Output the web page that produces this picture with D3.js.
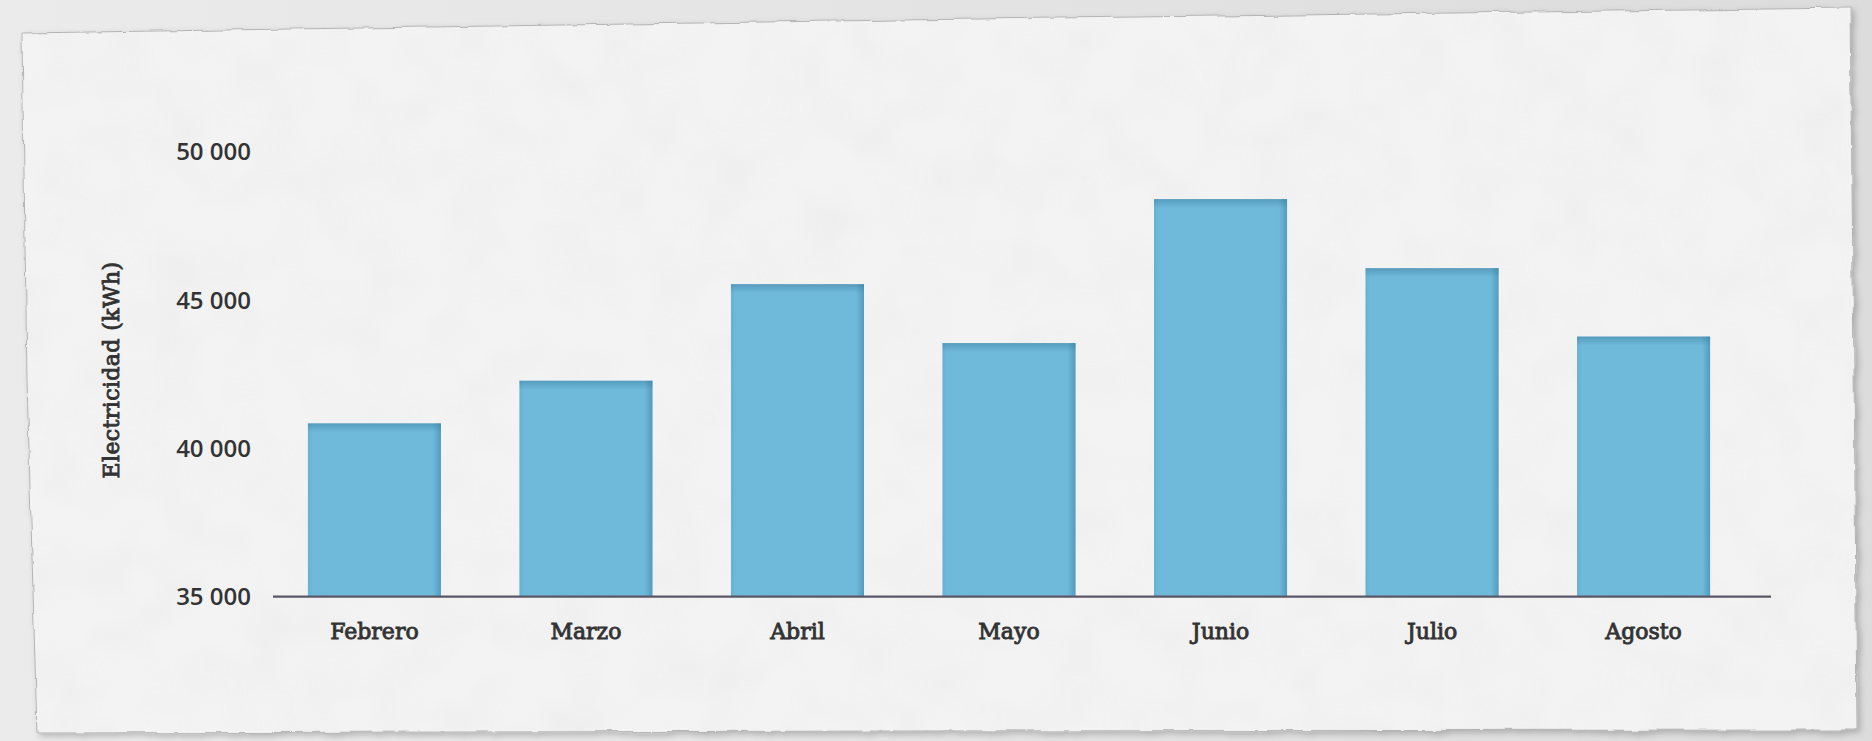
<!DOCTYPE html>
<html>
<head>
<meta charset="utf-8">
<script src="https://cdn.jsdelivr.net/npm/d3@7"></script>
<style>
  html, body { margin: 0; padding: 0; background: #e2e2e2; }
  svg { display: block; }
</style>
</head>
<body>
<svg id="chart" width="1872" height="741"></svg>
<script>
// Monthly electricity consumption (kWh)
const months = ["Febrero", "Marzo", "Abril", "Mayo", "Junio", "Julio", "Agosto"];
const electricity = [40850, 42290, 45550, 43560, 48420, 46090, 43780];
const yTicks = [35000, 40000, 45000, 50000];
const yTitle = "Electricidad (kWh)";

const W = 1872, H = 741;
const svg = d3.select("#chart");
const defs = svg.append("defs");

// ---- Torn paper sheet ----
const tear = defs.append("filter").attr("id", "tear")
  .attr("x", "-5%").attr("y", "-10%").attr("width", "110%").attr("height", "120%");
tear.append("feTurbulence").attr("type", "fractalNoise")
  .attr("baseFrequency", "0.035").attr("numOctaves", 3).attr("seed", 7).attr("result", "noise");
tear.append("feDisplacementMap").attr("in", "SourceGraphic").attr("in2", "noise")
  .attr("scale", 5).attr("xChannelSelector", "R").attr("yChannelSelector", "G").attr("result", "torn");
tear.append("feGaussianBlur").attr("in", "torn").attr("stdDeviation", 3).attr("result", "blur");
tear.append("feOffset").attr("in", "blur").attr("dx", 3).attr("dy", 3).attr("result", "off");
tear.append("feColorMatrix").attr("in", "off").attr("type", "matrix")
  .attr("values", "0 0 0 0 0  0 0 0 0 0  0 0 0 0 0  0 0 0 0.22 0").attr("result", "shadow");
const merge = tear.append("feMerge");
merge.append("feMergeNode").attr("in", "shadow");
merge.append("feMergeNode").attr("in", "torn");

// subtle mottled texture on the sheet
const grain = defs.append("filter").attr("id", "grain")
  .attr("x", 0).attr("y", 0).attr("width", "100%").attr("height", "100%");
grain.append("feTurbulence").attr("type", "fractalNoise")
  .attr("baseFrequency", "0.02").attr("numOctaves", 2).attr("seed", 3).attr("result", "n");
grain.append("feColorMatrix").attr("in", "n").attr("type", "matrix")
  .attr("values", "0 0 0 0 0.5  0 0 0 0 0.5  0 0 0 0 0.5  0 0 0 -1.2 0.75");

// outer backdrop, a touch darker towards the right
const bgGrad = defs.append("linearGradient").attr("id", "bgGrad")
  .attr("x1", 0).attr("y1", 0).attr("x2", 1).attr("y2", 0);
bgGrad.append("stop").attr("offset", "0%").attr("stop-color", "#ebebeb");
bgGrad.append("stop").attr("offset", "100%").attr("stop-color", "#dcdcdc");
svg.append("rect").attr("width", W).attr("height", H).attr("fill", "url(#bgGrad)");

const sheet = [[22, 33], [900, 20], [1850, 8], [1854, 370], [1857, 730], [900, 731], [37, 733], [27, 380]];
const sheetPath = d3.line().curve(d3.curveLinearClosed)(sheet);

svg.append("path").attr("d", sheetPath)
  .attr("fill", "#f3f3f3").attr("stroke", "#b4b4b4").attr("stroke-width", 1)
  .attr("filter", "url(#tear)");

const clip = defs.append("clipPath").attr("id", "sheetClip");
clip.append("path").attr("d", sheetPath);
svg.append("rect").attr("width", W).attr("height", H)
  .attr("filter", "url(#grain)").attr("opacity", 0.1)
  .attr("clip-path", "url(#sheetClip)");

// ---- Scales ----
const axisLeft = 273, axisRight = 1771;
const x = d3.scaleBand().domain(months)
  .range([axisLeft, 1745]).paddingInner(0.371).paddingOuter(0.165);
const y = d3.scaleLinear().domain([35000, 50000]).range([596.7, 152.3]);

const locale = d3.formatLocale({ decimal: ",", thousands: " ", grouping: [3], currency: ["", ""] });
const fmt = locale.format(",d");

// ---- Bar shading gradients ----
const topShade = defs.append("linearGradient").attr("id", "topShade")
  .attr("x1", 0).attr("y1", 0).attr("x2", 0).attr("y2", 1);
topShade.append("stop").attr("offset", "0%").attr("stop-color", "#2a6f8f").attr("stop-opacity", 0.38);
topShade.append("stop").attr("offset", "100%").attr("stop-color", "#2a6f8f").attr("stop-opacity", 0);
const rightShade = defs.append("linearGradient").attr("id", "rightShade")
  .attr("x1", 0).attr("y1", 0).attr("x2", 1).attr("y2", 0);
rightShade.append("stop").attr("offset", "0%").attr("stop-color", "#2a6f8f").attr("stop-opacity", 0);
rightShade.append("stop").attr("offset", "100%").attr("stop-color", "#2a6f8f").attr("stop-opacity", 0.4);
const leftShade = defs.append("linearGradient").attr("id", "leftShade")
  .attr("x1", 0).attr("y1", 0).attr("x2", 1).attr("y2", 0);
leftShade.append("stop").attr("offset", "0%").attr("stop-color", "#2a6f8f").attr("stop-opacity", 0.12);
leftShade.append("stop").attr("offset", "100%").attr("stop-color", "#2a6f8f").attr("stop-opacity", 0);

const data = months.map((m, i) => ({ month: m, value: electricity[i] }));

const bars = svg.append("g").attr("class", "bars")
  .selectAll("g").data(data).join("g");

bars.append("rect")
  .attr("x", d => x(d.month)).attr("y", d => y(d.value))
  .attr("width", x.bandwidth()).attr("height", d => y(35000) - y(d.value))
  .attr("fill", "#6fb9da");
bars.append("rect")
  .attr("x", d => x(d.month)).attr("y", d => y(d.value))
  .attr("width", x.bandwidth()).attr("height", 9)
  .attr("fill", "url(#topShade)");
bars.append("rect")
  .attr("x", d => x(d.month) + x.bandwidth() - 8).attr("y", d => y(d.value))
  .attr("width", 8).attr("height", d => y(35000) - y(d.value))
  .attr("fill", "url(#rightShade)");
bars.append("rect")
  .attr("x", d => x(d.month)).attr("y", d => y(d.value))
  .attr("width", 5).attr("height", d => y(35000) - y(d.value))
  .attr("fill", "url(#leftShade)");

// ---- Axes ----
svg.append("line")
  .attr("x1", axisLeft).attr("x2", axisRight)
  .attr("y1", y(35000)).attr("y2", y(35000))
  .attr("stroke", "#5b5766").attr("stroke-width", 2.2);

const yAxis = svg.append("g").attr("transform", "translate(251,0)")
  .call(d3.axisLeft(y).tickValues(yTicks).tickFormat(fmt).tickSize(0).tickPadding(0));
yAxis.select(".domain").remove();
yAxis.selectAll("text")
  .attr("font-family", "'Open Sans', sans-serif").attr("font-size", 24)
  .attr("font-weight", 600).attr("fill", "#333");

const xAxis = svg.append("g").attr("transform", `translate(0,${y(35000)})`)
  .call(d3.axisBottom(x).tickSize(0).tickPadding(0));
xAxis.select(".domain").remove();
xAxis.selectAll("text")
  .attr("y", 35).attr("dy", "0.35em")
  .attr("font-family", "'DejaVu Serif', serif").attr("font-size", 22)
  .attr("fill", "#333").attr("stroke", "#333").attr("stroke-width", 0.9);

svg.append("text")
  .attr("transform", "translate(111,370) rotate(-90)")
  .attr("text-anchor", "middle").attr("dy", "0.35em")
  .attr("font-family", "'DejaVu Serif', serif").attr("font-size", 22)
  .attr("letter-spacing", 0.4)
  .attr("fill", "#333").attr("stroke", "#333").attr("stroke-width", 0.9)
  .text(yTitle);
</script>
</body>
</html>
